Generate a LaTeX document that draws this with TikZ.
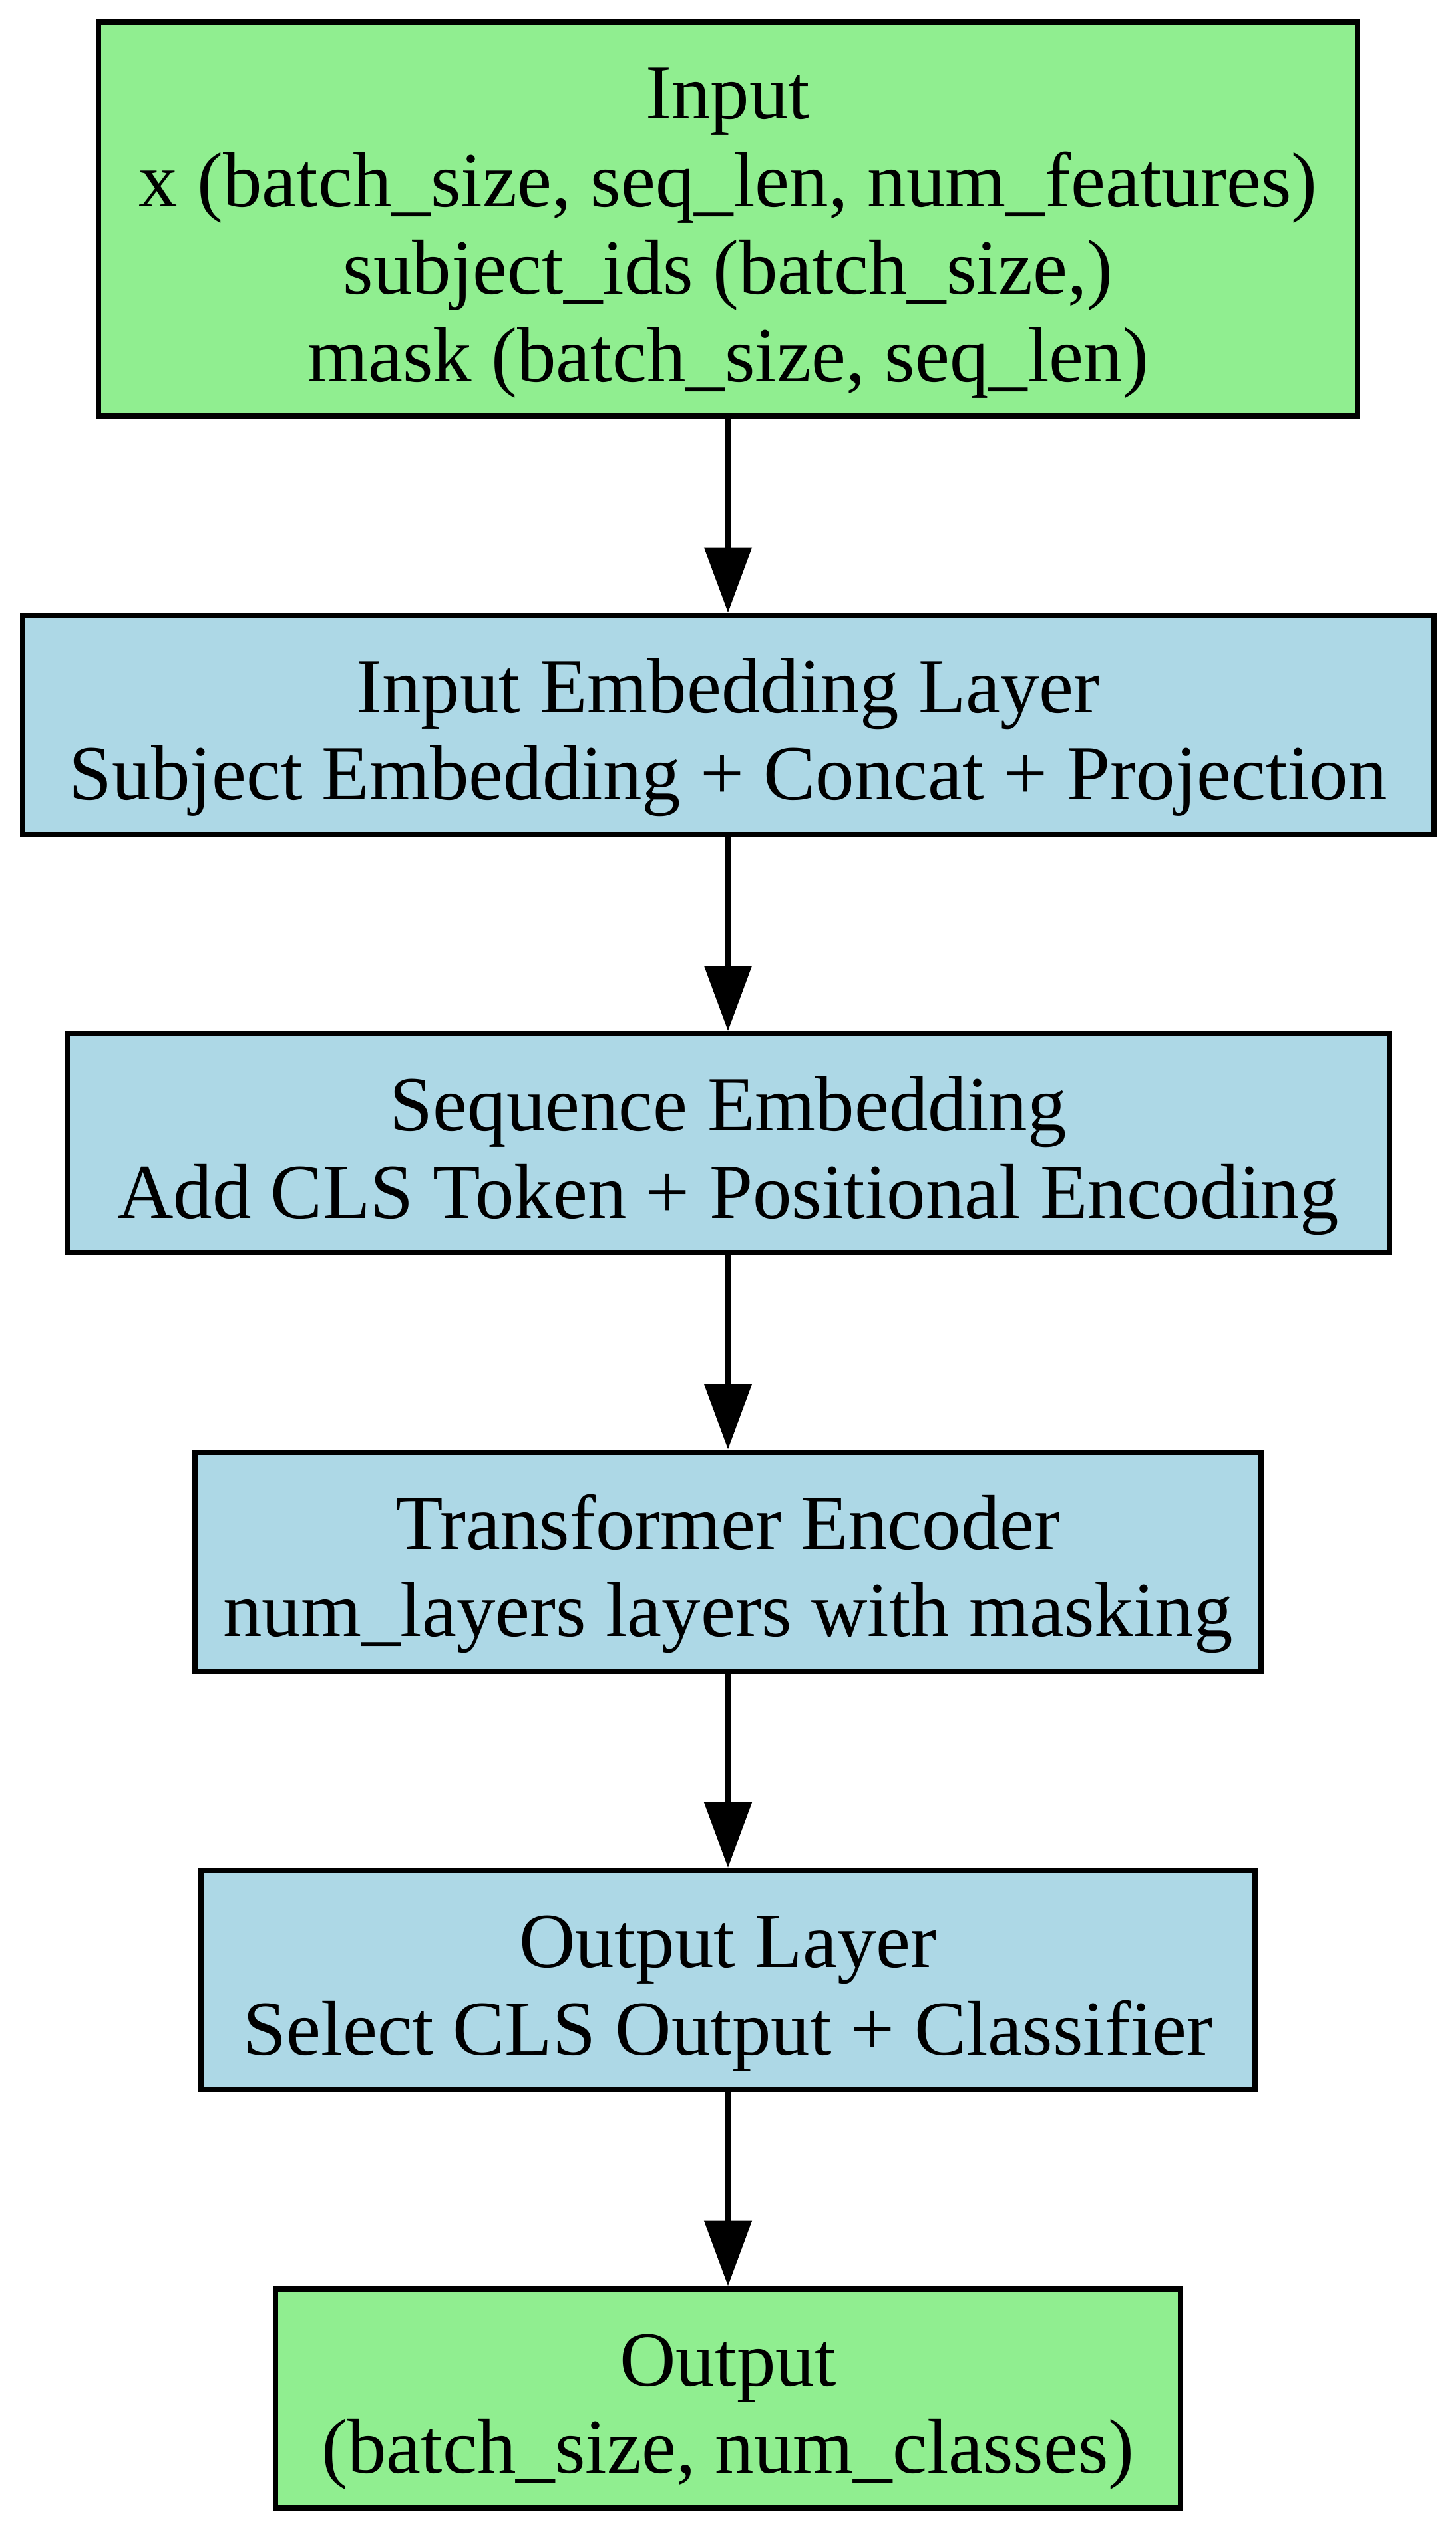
\documentclass[tikz,border=0pt]{standalone}
\usepackage{fontspec}
\setmainfont{Liberation Serif}
\usetikzlibrary{positioning}
\usetikzlibrary{arrows.meta}
\definecolor{iogreen}{HTML}{90EE90}
\definecolor{layerblue}{HTML}{ADD8E6}
\newcommand{\upstrut}{\rule{0pt}{12.35pt}}
\newcommand{\dnstrut}{\rule[-3pt]{0pt}{3pt}}

\begin{document}
\begin{tikzpicture}[x=1pt,y=1pt,
    nodes={draw,line width=0.8pt,align=center,
        font=\fontsize{11.7}{13.15}\selectfont,inner xsep=4pt,inner ysep=2pt,
        minimum height=32.9pt},
    iobox/.style={fill=iogreen},
    layerbox/.style={fill=layerblue},
    arr/.style={line width=0.8pt,-{Triangle[length=9.8pt,width=7pt]}},
    node distance=29.15pt]
    \useasboundingbox (0,0) rectangle (218.8,-380.4);
    \node[iobox,minimum width=189.2pt,minimum height=59.2pt] (inp) at (109.4,-32.9)
        {\upstrut Input\\x (batch\_size, seq\_len, num\_features)\\subject\_ids (batch\_size,)\\mask (batch\_size, seq\_len)\dnstrut};
    \node[layerbox,minimum width=212.1pt,below=of inp] (emb)
        {\upstrut Input Embedding Layer\\Subject Embedding + Concat + Projection\dnstrut};
    \node[layerbox,minimum width=198.7pt,below=of emb] (seq)
        {\upstrut Sequence Embedding\\Add CLS Token + Positional Encoding\dnstrut};
    \node[layerbox,minimum width=160.2pt,below=of seq] (enc)
        {\upstrut Transformer Encoder\\num\_layers layers with masking\dnstrut};
    \node[layerbox,minimum width=158.4pt,below=of enc] (outl)
        {\upstrut Output Layer\\Select CLS Output + Classifier\dnstrut};
    \node[iobox,minimum width=136pt,below=of outl] (out)
        {\upstrut Output\\(batch\_size, num\_classes)\dnstrut};
    \foreach \a/\b in {inp/emb,emb/seq,seq/enc,enc/outl,outl/out}
        \draw[arr] (\a) -- (\b);
\end{tikzpicture}
\end{document}
